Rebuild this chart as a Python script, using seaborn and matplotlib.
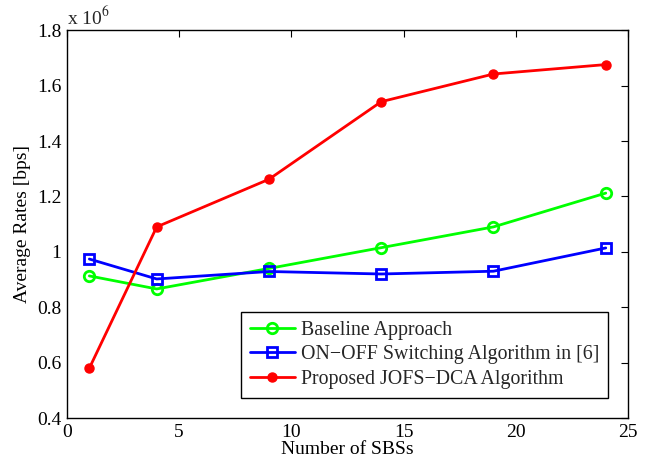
import matplotlib
matplotlib.use("Agg")
import matplotlib.pyplot as plt
import seaborn as sns
import pandas as pd
from matplotlib.ticker import FormatStrFormatter

# data (rates in units of 1e6 bps)
num_sbs = [1, 4, 9, 14, 19, 24]
baseline = [0.913, 0.866, 0.940, 1.015, 1.090, 1.212]
onoff = [0.974, 0.902, 0.929, 0.920, 0.930, 1.014]
proposed = [0.580, 1.090, 1.262, 1.542, 1.642, 1.676]

names = ["Baseline Approach", "ON\u2212OFF Switching Algorithm in [6]",
         "Proposed JOFS\u2212DCA Algorithm"]

df = pd.DataFrame({
    "x": num_sbs * 3,
    "y": baseline + onoff + proposed,
    "method": [names[0]] * 6 + [names[1]] * 6 + [names[2]] * 6,
})

sns.set_theme(style="white")
plt.rcParams["font.family"] = ["Liberation Serif", "DejaVu Serif"]
plt.rcParams["mathtext.fontset"] = "stix"

fig = plt.figure(figsize=(6.69, 4.65), dpi=100)
ax = fig.add_axes([0.100, 0.101, 0.839, 0.834])

styles = {
    names[0]: dict(color="#00ff00", marker="o", mfc="none", ms=7.5, mew=2.0),
    names[1]: dict(color="#0000ff", marker="s", mfc="none", ms=7, mew=2.0),
    names[2]: dict(color="#ff0000", marker="o", mfc="#ff0000", ms=6.5, mew=1.0),
}
for name in names:
    sub = df[df["method"] == name]
    st = styles[name]
    sns.lineplot(data=sub, x="x", y="y", ax=ax, color=st["color"], lw=2.0,
                 marker=st["marker"], markersize=st["ms"], markerfacecolor=st["mfc"],
                 markeredgecolor=st["color"], markeredgewidth=st["mew"], label=name)

ax.set_xlim(0, 25)
ax.set_ylim(0.4, 1.8)
ax.set_xticks([0, 5, 10, 15, 20, 25])
ax.set_yticks([0.4, 0.6, 0.8, 1.0, 1.2, 1.4, 1.6, 1.8])
ax.yaxis.set_major_formatter(FormatStrFormatter("%g"))
ax.tick_params(direction="in", length=5, width=0.8, top=True, right=True,
               labelsize=14, colors="black", pad=4)
for s in ax.spines.values():
    s.set_color("black")
    s.set_linewidth(1.0)

ax.set_xlabel("Number of SBSs", fontsize=14, labelpad=0, color="black")
ax.set_ylabel("Average Rates [bps]", fontsize=14, labelpad=4, color="black")
ax.text(0.0, 1.005, "x 10$^6$", transform=ax.transAxes, fontsize=14,
        ha="left", va="bottom")

leg = ax.legend(loc="lower right", bbox_to_anchor=(0.964, 0.052), fontsize=14.3,
                frameon=True, fancybox=False, edgecolor="black", framealpha=1,
                handlelength=2.25, borderpad=0.45, labelspacing=0.28,
                handletextpad=0.3, borderaxespad=0)
leg.get_frame().set_linewidth(1.0)

fig.savefig("out.png", dpi=100)
